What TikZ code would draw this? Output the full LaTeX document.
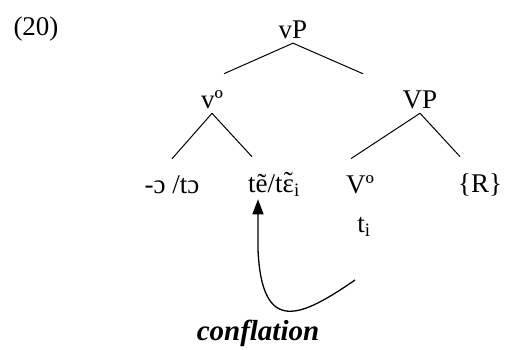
\documentclass[tikz,border=0pt]{standalone}
\usepackage{fontspec}
\setmainfont{Liberation Serif}
\usetikzlibrary{arrows.meta,calc,positioning}
\newcommand{\tildeeps}{\ooalign{ɛ\cr\hidewidth\raisebox{0.06em}{\char"02DC}\hidewidth\cr}}

\begin{document}
\begin{tikzpicture}[x=1pt, y=1pt,
    every node/.style={font=\fontsize{27}{32}\selectfont, inner sep=1pt},
    branch/.style={line width=1pt}]
    \useasboundingbox (0,0) rectangle (516,-350);

    % Nodes
    \node (ex)   at (36,-29)   {(20)};
    \node (vP)   at (293,-30)  {vP};
    \node (v)    at (212,-100) {vº};
    \node (VP)   at (420,-100) {VP};
    \node (suf)  at (172,-185) {-ɔ /tɔ};
    \node (verb) at (274,-185) {tẽ/t\tildeeps\textsubscript{i}};
    \node (V)    at (360,-185) {Vº};
    \node (R)    at (480,-185) {\{R\}};
    \node (ti)   at (364,-227) {t\textsubscript{i}};
    \node[font=\fontsize{29}{34}\selectfont\bfseries\itshape] (conf) at (258,-333) {conflation};

    % Branches
    \draw[branch] ([yshift=-3pt]vP.south) -- ([xshift=12pt,yshift=16pt]v.north);
    \draw[branch] ([yshift=-3pt]vP.south) -- ([xshift=-57pt,yshift=16pt]VP.north);
    \draw[branch] ([yshift=-3pt]v.south) -- ([xshift=0pt,yshift=16pt]suf.north);
    \draw[branch] ([yshift=-3pt]v.south) -- ([xshift=-22pt,yshift=16pt]verb.north);
    \draw[branch] ([yshift=-3pt]VP.south) -- ([xshift=-9pt,yshift=16pt]V.north);
    \draw[branch] ([yshift=-3pt]VP.south) -- ([xshift=-20pt,yshift=16pt]R.north);

    % Movement arrow
    \coordinate (tail) at (355,-280);
    \draw[line width=1.3pt, -{Triangle[length=15pt,width=11pt]}]
        (tail) .. controls (300,-318) and (262,-335) .. (258,-250)
        -- ([xshift=-16pt,yshift=-2pt]verb.south);
\end{tikzpicture}
\end{document}
